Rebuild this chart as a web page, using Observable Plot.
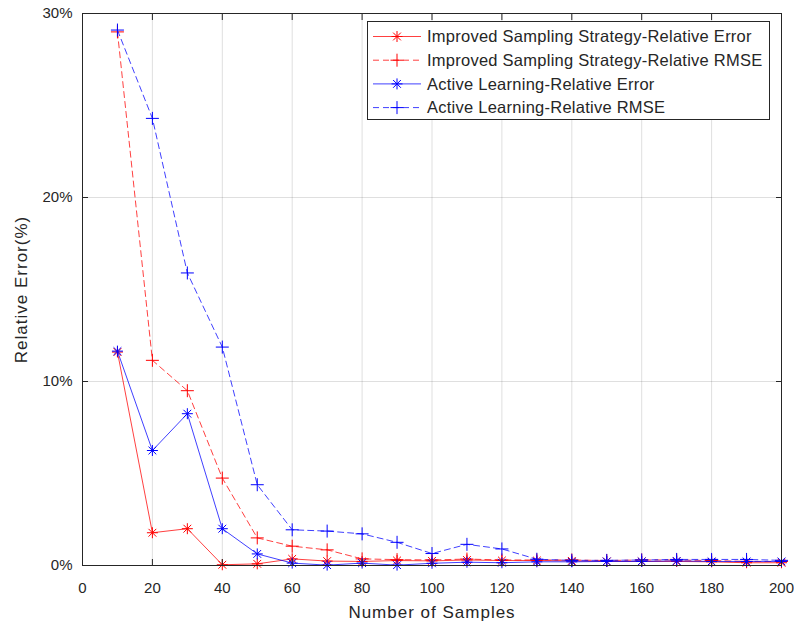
<!DOCTYPE html>
<html>
<head>
<meta charset="utf-8">
<script src="https://cdn.jsdelivr.net/npm/d3@7"></script>
<script src="https://cdn.jsdelivr.net/npm/@observablehq/plot@0.6"></script>
<style>
  body { margin: 0; background: #fff; }
  #chart svg { font-family: "Liberation Sans", Arial, Helvetica, sans-serif; }
</style>
</head>
<body>
<div id="chart"></div>
<script>
// Number of samples (x) and relative errors in percent (y)
const samples = [10, 20, 30, 40, 50, 60, 70, 80, 90, 100, 110, 120, 130, 140, 150, 160, 170, 180, 190, 200];
const issError = [11.6, 1.78, 2.0, 0.04, 0.09, 0.36, 0.24, 0.22, 0.27, 0.25, 0.3, 0.27, 0.27, 0.25, 0.22, 0.22, 0.22, 0.2, 0.15, 0.15];
const issRmse  = [29.0, 11.15, 9.5, 4.75, 1.5, 1.05, 0.85, 0.36, 0.32, 0.3, 0.35, 0.3, 0.3, 0.3, 0.27, 0.3, 0.3, 0.27, 0.22, 0.22];
const alError  = [11.65, 6.25, 8.25, 2.0, 0.63, 0.13, 0.02, 0.13, 0.02, 0.12, 0.18, 0.15, 0.2, 0.2, 0.22, 0.22, 0.25, 0.22, 0.22, 0.22];
const alRmse   = [29.1, 24.3, 15.9, 11.87, 4.39, 1.94, 1.87, 1.72, 1.26, 0.65, 1.15, 0.9, 0.34, 0.28, 0.28, 0.3, 0.33, 0.33, 0.33, 0.28];

const seriesNames = [
  "Improved Sampling Strategy-Relative Error",
  "Improved Sampling Strategy-Relative RMSE",
  "Active Learning-Relative Error",
  "Active Learning-Relative RMSE"
];
const xTicks = [0, 20, 40, 60, 80, 100, 120, 140, 160, 180, 200];
const yTicks = [0, 10, 20, 30];
const xLabel = "Number of Samples";
const yLabel = "Relative Error(%)";

// Eight-armed asterisk and plain plus markers
const asterisk8 = {
  draw(ctx, size) {
    const r = Math.sqrt(size / Math.PI), d = r * Math.SQRT1_2;
    ctx.moveTo(-r, 0); ctx.lineTo(r, 0);
    ctx.moveTo(0, -r); ctx.lineTo(0, r);
    ctx.moveTo(-d, -d); ctx.lineTo(d, d);
    ctx.moveTo(-d, d); ctx.lineTo(d, -d);
  }
};
const plusMark = {
  draw(ctx, size) {
    const r = Math.sqrt(size / Math.PI);
    ctx.moveTo(-r, 0); ctx.lineTo(r, 0);
    ctx.moveTo(0, -r); ctx.lineTo(0, r);
  }
};

const styles = [
  {values: issError, color: "#ff0000", dash: null,  symbol: asterisk8, r: 5.5},
  {values: issRmse,  color: "#ff0000", dash: "6,4", symbol: plusMark,  r: 6.5},
  {values: alError,  color: "#0000ff", dash: null,  symbol: asterisk8, r: 5.5},
  {values: alRmse,   color: "#0000ff", dash: "6,4", symbol: plusMark,  r: 6.5}
];

const axisColor = "#262626";
const marks = [
  Plot.gridX(xTicks, {stroke: axisColor, strokeOpacity: 0.15}),
  Plot.gridY(yTicks, {stroke: axisColor, strokeOpacity: 0.15})
];

styles.forEach((s, k) => {
  const rows = samples.map((x, i) => ({x, y: s.values[i], series: seriesNames[k]}));
  marks.push(Plot.line(rows, {x: "x", y: "y", stroke: s.color, strokeWidth: 1, strokeOpacity: 0.75, strokeDasharray: s.dash}));
  marks.push(Plot.dot(rows, {x: "x", y: "y", symbol: s.symbol, r: s.r, fill: "none", stroke: s.color, strokeWidth: 1}));
});

marks.push(
  Plot.frame({stroke: axisColor}),
  Plot.axisX(xTicks, {anchor: "bottom", tickSize: -6, tickPadding: 23, label: null, fontSize: 15, color: axisColor, style: {letterSpacing: "0.4px"}}),
  Plot.axisX(xTicks, {anchor: "top", tickSize: -6, label: null, tickFormat: () => "", color: axisColor}),
  Plot.axisY(yTicks, {anchor: "left", tickSize: -6, tickPadding: 16, label: null, fontSize: 15, color: axisColor, tickFormat: d => d + "%"}),
  Plot.axisY(yTicks, {anchor: "right", tickSize: -6, label: null, tickFormat: () => "", color: axisColor}),
  Plot.text([xLabel], {text: d => d, frameAnchor: "bottom", dy: 47, textAnchor: "middle", lineAnchor: "middle", fontSize: 17, fill: axisColor}),
  Plot.text([yLabel], {text: d => d, frameAnchor: "left", dx: -61, rotate: -90, textAnchor: "middle", lineAnchor: "middle", fontSize: 17, fill: axisColor})
);

const chart = Plot.plot({
  width: 794,
  height: 625,
  marginLeft: 82,
  marginRight: 13,
  marginTop: 13,
  marginBottom: 60,
  x: {domain: [0, 200], axis: null},
  y: {domain: [0, 30], axis: null},
  marks
});
document.getElementById("chart").appendChild(chart);

// Axis titles are set slightly wide, like the tick labels
d3.select(chart).selectAll("text")
  .filter(function () { return this.textContent === xLabel || this.textContent === yLabel; })
  .style("letter-spacing", "1px");

// Legend box in the upper right of the axes
const svg = d3.select(chart);
const lg = svg.append("g").attr("transform", "translate(367,21)");
lg.append("rect").attr("x", 0.5).attr("y", 0.5).attr("width", 402).attr("height", 98)
  .attr("fill", "#fff").attr("stroke", axisColor);
styles.forEach((s, k) => {
  const cy = 15.5 + k * 23.7;
  const row = lg.append("g").attr("transform", `translate(0,${cy})`);
  row.append("line").attr("x1", 6).attr("x2", 54).attr("y1", 0).attr("y2", 0)
    .attr("stroke", s.color).attr("stroke-opacity", 0.75).attr("stroke-dasharray", s.dash);
  row.append("path").attr("transform", "translate(30,0)")
    .attr("d", d3.symbol(s.symbol, Math.PI * s.r * s.r)())
    .attr("fill", "none").attr("stroke", s.color);
  row.append("text").attr("x", 60).attr("y", 0).attr("dy", "0.35em")
    .attr("text-anchor", "start").attr("font-size", 16.5).style("letter-spacing", "0.25px")
    .attr("fill", axisColor).text(seriesNames[k]);
});
</script>
</body>
</html>
